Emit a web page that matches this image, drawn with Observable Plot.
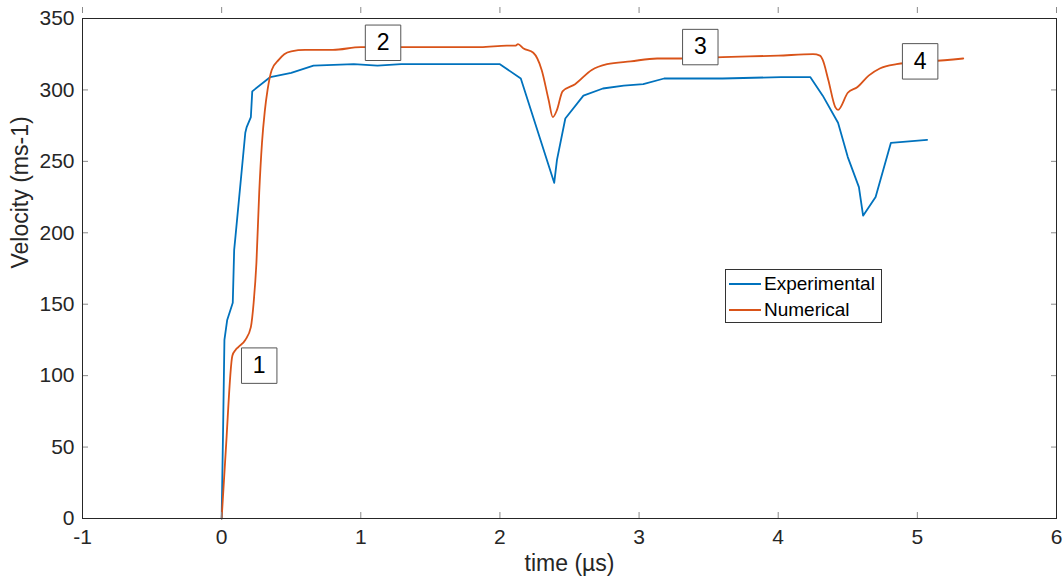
<!DOCTYPE html>
<html><head><meta charset="utf-8">
<script src="https://cdn.jsdelivr.net/npm/d3@7"></script>
<script src="https://cdn.jsdelivr.net/npm/@observablehq/plot@0.6"></script>
<style>
body{margin:0;background:#fff;}
#wrap{position:relative;width:1063px;height:586px;font-family:"Liberation Sans",Arial,Helvetica,sans-serif;}
#legend{position:absolute;left:725px;top:269px;width:155px;height:52px;border:1px solid #333;background:#fff;font-size:19px;color:#000;}
.item{position:absolute;left:3px;display:flex;align-items:center;height:24px;white-space:nowrap;}
.sw{width:32px;height:0;border-top:2px solid;margin-right:3px;}
</style></head>
<body><div id="wrap"></div>
<script>
// Experimental series (time in µs, velocity in m/s)
const expT = [0, 0.01, 0.02, 0.04, 0.08, 0.09, 0.10, 0.17, 0.18, 0.21, 0.22, 0.35, 0.50, 0.66, 0.95, 1.12, 1.29, 1.5, 1.86, 2.0, 2.15, 2.39, 2.41, 2.47, 2.60, 2.74, 2.89, 3.03, 3.18, 3.30, 3.6, 4.02, 4.23, 4.32, 4.43, 4.50, 4.58, 4.61, 4.70, 4.81, 5.07];
const expV = [0, 60, 125, 139, 151, 188, 198, 270, 274, 281, 299, 309, 312, 317, 318, 317, 318, 318, 318, 318, 308, 235, 251, 280, 296, 301, 303, 304, 308, 308, 308, 309, 309, 296, 277, 253, 232, 212, 225, 263, 265];
// Numerical series
const numT = [0, 0.03, 0.077, 0.10, 0.12, 0.17, 0.21, 0.23, 0.25, 0.27, 0.29, 0.31, 0.33, 0.36, 0.41, 0.45, 0.5, 0.6, 0.8, 1.0, 1.3, 1.6, 1.86, 2.05, 2.11, 2.13, 2.17, 2.24, 2.30, 2.35, 2.38, 2.41, 2.45, 2.54, 2.66, 2.77, 2.94, 3.13, 3.30, 3.6, 4.0, 4.25, 4.30, 4.32, 4.36, 4.41, 4.43, 4.50, 4.57, 4.65, 4.73, 4.85, 4.94, 5.1, 5.33];
const numV = [0, 48, 114, 118, 120, 125, 134, 151, 179, 228, 263, 285, 300, 314, 321, 325, 327, 328, 328, 330, 330, 330, 330, 331, 331, 332, 329, 326, 314, 293, 281, 286, 299, 304, 314, 318, 320, 322, 322, 323, 324, 325, 324, 321, 307, 288, 286, 298, 302, 310, 315, 318, 319, 320, 322];
// Annotation boxes
const boxLabels = ["1", "2", "3", "4"];
const boxT = [0.27, 1.16, 3.44, 5.02];
const boxV = [107, 333, 330, 320];
// Ticks and labels
const xTicks = [-1, 0, 1, 2, 3, 4, 5, 6];
const yTicks = [0, 50, 100, 150, 200, 250, 300, 350];
const xLabel = "time (µs)";
const yLabel = "Velocity (ms-1)";
const seriesNames = ["Experimental", "Numerical"];
const seriesColors = ["#0072BD", "#D95319"];

const expData = expT.map((t, i) => ({t, v: expV[i]}));
const numData = numT.map((t, i) => ({t, v: numV[i]}));
const boxes = boxLabels.map((s, i) => ({s, t: boxT[i], v: boxV[i]}));

const fontFamily = '"Liberation Sans", Arial, Helvetica, sans-serif';
const axisColor = "#262626";
const tickColor = "#8a8a8a";
const fmt = d => String(d);
const blank = () => "";

const chart = Plot.plot({
  width: 1063, height: 586,
  marginLeft: 82, marginRight: 7, marginTop: 18, marginBottom: 68,
  x: {domain: [-1, 6]},
  y: {domain: [0, 350]},
  style: {fontFamily, fontSize: "21px", color: axisColor, background: "#fff", overflow: "visible"},
  marks: [
    Plot.line(expData, {x: "t", y: "v", stroke: seriesColors[0], strokeWidth: 1.8}),
    Plot.line(numData, {x: "t", y: "v", stroke: seriesColors[1], strokeWidth: 1.8, curve: "monotone-x"}),
    // tick labels
    Plot.axisX(xTicks, {anchor: "bottom", tickSize: 0, tickPadding: 11, label: null, tickFormat: fmt, fontSize: 21}),
    Plot.axisY(yTicks, {anchor: "left", tickSize: 0, tickPadding: 8, label: null, tickFormat: fmt, fontSize: 21}),
    // inward tick marks on all four sides
    Plot.axisX(xTicks, {anchor: "bottom", tickSize: 6, dy: -6, label: null, tickFormat: blank, stroke: tickColor}),
    Plot.axisX(xTicks, {anchor: "top", tickSize: 6, dy: -6, label: null, tickFormat: blank, stroke: tickColor}),
    Plot.axisY(yTicks, {anchor: "left", tickSize: 6, dx: 6, label: null, tickFormat: blank, stroke: tickColor}),
    Plot.axisY(yTicks, {anchor: "right", tickSize: 6, dx: -6, label: null, tickFormat: blank, stroke: tickColor}),
    Plot.frame({stroke: axisColor, strokeWidth: 1}),
    Plot.dot(boxes, {x: "t", y: "v", symbol: "square", r: 20, fill: "white", stroke: "#555", strokeWidth: 1}),
    Plot.text(boxes, {x: "t", y: "v", text: "s", fontSize: 23, fill: "#000"}),
    Plot.text([xLabel], {frameAnchor: "bottom", dy: 52, text: d => d, fontSize: 23, fill: axisColor}),
    Plot.text([yLabel], {frameAnchor: "left", dx: -62, rotate: -90, text: d => d, fontSize: 23, fill: axisColor})
  ]
});

const wrap = document.getElementById("wrap");
wrap.appendChild(chart);
const legend = document.createElement("div");
legend.id = "legend";
seriesNames.forEach((name, i) => {
  const item = document.createElement("div");
  item.className = "item";
  item.style.top = (2 + i * 26) + "px";
  const sw = document.createElement("span");
  sw.className = "sw";
  sw.style.borderTopColor = seriesColors[i];
  const lbl = document.createElement("span");
  lbl.textContent = name;
  item.appendChild(sw);
  item.appendChild(lbl);
  legend.appendChild(item);
});
wrap.appendChild(legend);
</script>
</body></html>
